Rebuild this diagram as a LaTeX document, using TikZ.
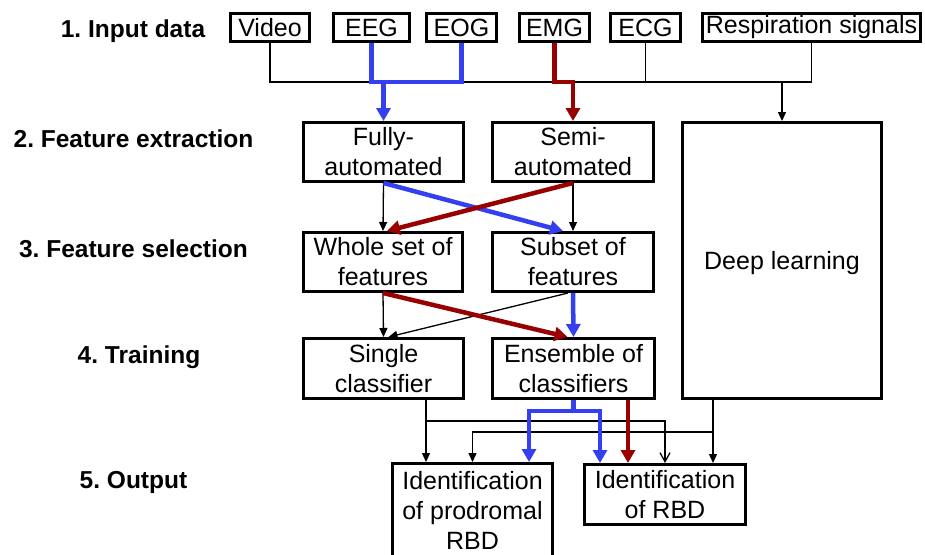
\documentclass[tikz,border=0pt]{standalone}
\usepackage{fontspec}
\setmainfont{Liberation Sans}
\frenchspacing
\usetikzlibrary{arrows.meta}
\definecolor{pathblue}{RGB}{52,64,240}
\definecolor{pathred}{RGB}{153,0,0}
\tikzset{
  box/.style={draw, line width=3pt, inner sep=0pt, align=center,
    font=\fontsize{25}{30}\selectfont},
  boxtext/.style={inner sep=0pt, align=center,
    font=\fontsize{25}{30}\selectfont},
  stage/.style={anchor=base, inner sep=0pt,
    font=\fontsize{24.5}{30}\selectfont\bfseries},
  link/.style={line width=1.3pt},
  linkarrow/.style={link, -{Triangle[length=9pt,width=8pt]}},
  openarrow/.style={link, -{Straight Barb[length=9pt,width=10pt]}},
  bluepath/.style={draw=pathblue, line width=4.5pt, line join=miter},
  bluearrow/.style={bluepath, -{Triangle[length=13pt,width=14pt]}},
  redpath/.style={draw=pathred, line width=4.5pt, line join=miter},
  redarrow/.style={redpath, -{Triangle[length=13pt,width=14pt]}},
}
\begin{document}
\begin{tikzpicture}[x=1pt, y=-1pt]
\useasboundingbox (0,0) rectangle (925,554);
\clip (0,0) rectangle (925,554);

% stage labels
\node[stage] (l1) at (133,37) {1. Input data};
\node[stage] (l2) at (133.5,147) {2. Feature extraction};
\node[stage] (l3) at (133.5,257) {3. Feature selection};
\node[stage] (l4) at (139,363) {4. Training};
\node[stage] (l5) at (133.5,488) {5. Output};

% input signals
\node[box, minimum width=79pt, minimum height=28pt] (video) at (270,27.5) {Video};
\node[box, minimum width=76pt, minimum height=28pt] (eeg) at (371.5,27.5) {EEG};
\node[box, minimum width=70pt, minimum height=28pt] (eog) at (461.5,27.5) {EOG};
\node[box, minimum width=70pt, minimum height=28pt] (emg) at (554.5,27.5) {EMG};
\node[box, minimum width=70pt, minimum height=28pt] (ecg) at (645.5,27.5) {ECG};
\node[box, minimum width=218pt, minimum height=28pt] (resp) at (811.5,27.5) {Respiration signals};

% feature extraction
\node[box, minimum width=160pt, minimum height=59pt] (fully) at (383.5,152) {Fully-\\automated};
\node[box, minimum width=161pt, minimum height=59pt] (semi) at (573,152) {Semi-\\automated};
\node[box, minimum width=199pt, minimum height=276pt, text height=18pt, text depth=0pt] (deep) at (782,260.5) {Deep learning};

% feature selection
\node[box, minimum width=159pt, minimum height=59pt] (whole) at (383,262) {Whole set of\\features};
\node[box, minimum width=161pt, minimum height=59pt] (subset) at (573,262) {Subset of\\features};

% training
\node[box, minimum width=160pt, minimum height=60pt] (single) at (383.5,368.5) {Single\\classifier};
\node[box, minimum width=162pt, minimum height=60pt] (ensemble) at (573.5,368.5) {Ensemble of\\classifiers};

% output (the prodromal box runs past the lower edge)
\node[box, minimum width=160pt, minimum height=110pt, anchor=north] (prod) at (472.5,462) {};
\node[boxtext] (prodtext) at (472.5,510) {Identification\\of prodromal\\RBD};
\node[box, minimum width=161pt, minimum height=60pt] (rbd) at (665,494.5) {Identification\\of RBD};

% helper coordinates
\coordinate (bus) at (0,82);
\coordinate (sx) at (426,0);
\coordinate (dx) at (713,0);
\coordinate (bj) at (573.5,411);

% input bus
\draw[link] (video.south) -- (video.south |- bus) -| (resp.south);
\draw[link] (ecg.south) -- (ecg.south |- bus);
\draw[linkarrow] (deep.north |- bus) -- (deep.north);
\draw[bluepath] (eeg.south) |- (eog.south |- bus) -- (eog.south);
\draw[bluearrow] (fully.north |- bus) -- (fully.north);
\draw[redarrow] (emg.south) |- (semi.north |- bus) -- (semi.north);

% extraction to selection
\draw[linkarrow] (fully.south) -- (whole.north);
\draw[linkarrow] (semi.south) -- (subset.north);
\draw[bluearrow] (fully.south) -- ([xshift=-10pt]subset.north);
\draw[redarrow] (semi.south) -- ([xshift=4pt]whole.north);

% selection to training
\draw[linkarrow] (whole.south) -- (single.north);
\draw[linkarrow] ([xshift=-5pt]subset.south) -- ([xshift=5pt]single.north);
\draw[redarrow] (whole.south) -- ([xshift=-6pt]ensemble.north);
\draw[bluearrow] (subset.south) -- (ensemble.north);

% training to output
\draw[linkarrow] (single.south -| sx) -- (prod.north -| sx);
\draw[openarrow] (single.south -| sx) -- (sx |- 0,421) -| (rbd.north);
\draw[linkarrow] (deep.south -| dx) -- (rbd.north -| dx);
\draw[linkarrow] (dx |- 0,432) -| (prod.north);
\draw[bluearrow] (ensemble.south) -- (bj) -| ([xshift=56.5pt]prod.north);
\draw[bluearrow] (bj) -| ([xshift=-65pt]rbd.north);
\draw[redarrow] ([xshift=54.5pt]ensemble.south) -- ([xshift=54.5pt]ensemble.south |- rbd.north);
\end{tikzpicture}
\end{document}
